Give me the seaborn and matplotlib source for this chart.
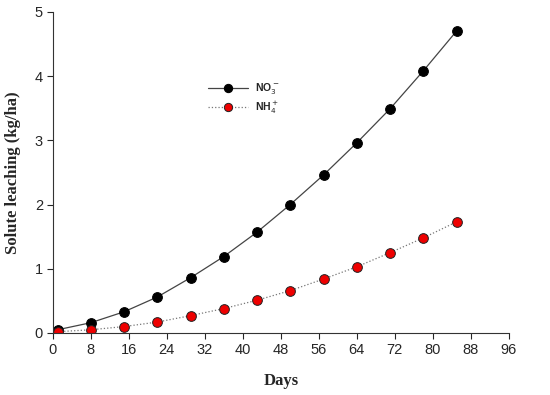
import numpy as np
import pandas as pd
import seaborn as sns
import matplotlib.pyplot as plt

# Data
days = [1, 8, 15, 22, 29, 36, 43, 50, 57, 64, 71, 78, 85]
no3 = [0.05, 0.16, 0.33, 0.56, 0.86, 1.19, 1.57, 2.00, 2.46, 2.96, 3.49, 4.08, 4.70]
nh4 = [0.02, 0.05, 0.10, 0.17, 0.27, 0.38, 0.51, 0.66, 0.84, 1.03, 1.25, 1.48, 1.73]
x_ticks = list(range(0, 97, 8))
y_ticks = [0, 1, 2, 3, 4, 5]

df = pd.DataFrame({'Days': days, 'NO3': no3, 'NH4': nh4})

sns.set_style('ticks')
plt.rcParams['font.family'] = ['Liberation Sans', 'DejaVu Sans']

fig, ax = plt.subplots(figsize=(5.5, 3.95), dpi=100)
fig.subplots_adjust(left=0.096, right=0.925, bottom=0.157, top=0.97)

sns.lineplot(data=df, x='Days', y='NO3', ax=ax, color='#444444', lw=0.9,
             marker='o', markersize=7, markerfacecolor='black',
             markeredgecolor='black', label=r'NO$_3^-$')
sns.lineplot(data=df, x='Days', y='NH4', ax=ax, color='#777777', lw=0.9,
             linestyle=':', marker='o', markersize=7, markerfacecolor='#ee0000',
             markeredgecolor='#222222', markeredgewidth=0.7, label=r'NH$_4^+$')

ax.set_xlim(0, 96)
ax.set_ylim(0, 5)
ax.set_xticks(x_ticks)
ax.set_yticks(y_ticks)
ax.tick_params(direction='out', length=4, width=0.8, labelsize=10.5, pad=3)
sns.despine(ax=ax)
for s in ['left', 'bottom']:
    ax.spines[s].set_linewidth(0.8)
    ax.spines[s].set_color('#333333')

ax.set_xlabel('Days', fontfamily='Liberation Serif', fontweight='bold', fontsize=12, labelpad=12)
ax.set_ylabel('Solute leaching (kg/ha)', fontfamily='Liberation Serif', fontweight='bold',
              fontsize=12, labelpad=10)

leg = ax.legend(loc='upper left', bbox_to_anchor=(0.33, 0.80), frameon=False,
                fontsize=7.5, handlelength=3.8, handletextpad=0.7, labelspacing=0.3,
                borderpad=0, markerscale=0.85)
for t in leg.get_texts():
    t.set_fontweight('bold')

fig.savefig('out.png', dpi=100)
